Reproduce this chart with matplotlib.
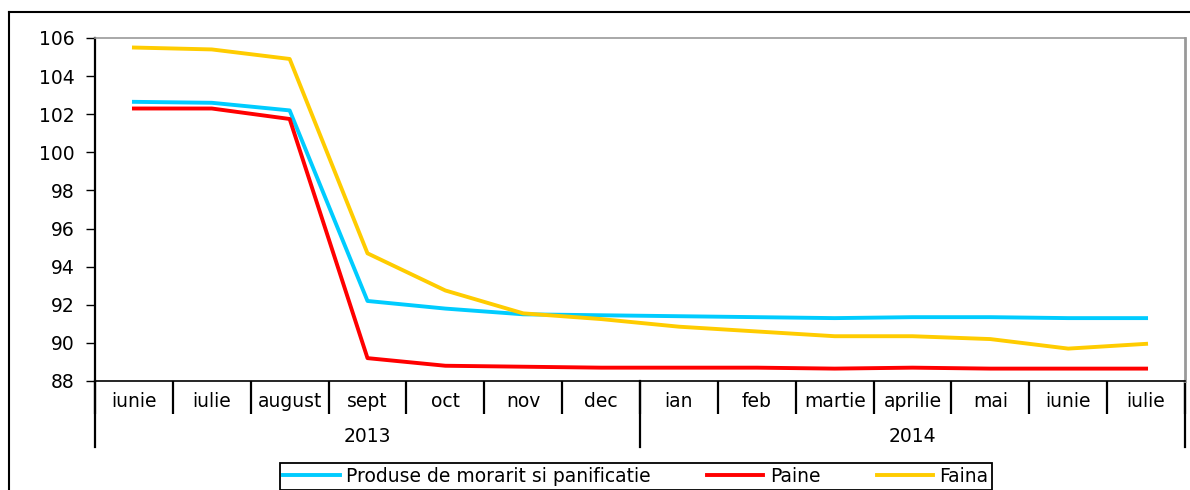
import numpy as np
import matplotlib.pyplot as plt
from matplotlib.lines import Line2D

plt.rcParams['font.family'] = ['DejaVu Sans']

# monthly indices, June 2013 - July 2014
months = ['iunie', 'iulie', 'august', 'sept', 'oct', 'nov', 'dec',
          'ian', 'feb', 'martie', 'aprilie', 'mai', 'iunie', 'iulie']
years = ['2013', '2014']
months_per_year = [7, 7]

produse = [102.65, 102.6, 102.2, 92.2, 91.8, 91.5, 91.45,
           91.4, 91.35, 91.3, 91.35, 91.35, 91.3, 91.3]
paine = [102.3, 102.3, 101.75, 89.2, 88.8, 88.75, 88.7,
         88.7, 88.7, 88.65, 88.7, 88.65, 88.65, 88.65]
faina = [105.5, 105.4, 104.9, 94.7, 92.75, 91.55, 91.25,
         90.85, 90.6, 90.35, 90.35, 90.2, 89.7, 89.95]

fs = 13.5

fig = plt.figure(figsize=(11.9, 4.9), dpi=100)
ax = fig.add_axes([95 / 1190, 1 - 381 / 490, 1090 / 1190, 343 / 490])

x = np.arange(len(months))
ax.plot(x, produse, color='#00ccff', lw=2.8, label='Produse de morarit si panificatie')
ax.plot(x, paine, color='#ff0000', lw=2.8, label='Paine')
ax.plot(x, faina, color='#ffcc00', lw=2.8, label='Faina')

ax.set_xlim(-0.5, len(months) - 0.5)
ax.set_ylim(88, 106)
ax.set_yticks(np.arange(88, 107, 2))
ax.tick_params(axis='y', labelsize=fs, length=6.5, width=1, direction='out', pad=8)

# category axis: boundaries as major ticks, names as minor ticks
ax.set_xticks(np.arange(-0.5, len(months)), [''] * (len(months) + 1))
ax.set_xticks(x, months, minor=True)
ax.tick_params(axis='x', which='major', length=24, width=1.6, direction='out')
ax.tick_params(axis='x', which='minor', length=0, labelsize=fs, pad=8)

for s in ['top', 'right']:
    ax.spines[s].set_color('#999999')
ax.spines['top'].set_linewidth(1.2)
ax.spines['right'].set_linewidth(2)
ax.spines['left'].set_linewidth(1.6)
ax.spines['bottom'].set_linewidth(1.2)

# year level
tr = ax.get_xaxis_transform()
start = 0
bounds = [-0.5]
for yr, n in zip(years, months_per_year):
    ax.text(start + (n - 1) / 2, -0.163, yr, transform=tr, ha='center', va='center', fontsize=fs)
    start += n
    bounds.append(start - 0.5)
for b in bounds:
    ax.plot([b, b], [0, -0.192], transform=tr, color='black', lw=1.6, clip_on=False)

ax.legend(loc='upper center', bbox_to_anchor=(636 / 1190, 1 - 463 / 490),
          bbox_transform=fig.transFigure, ncol=3, frameon=True, fancybox=False,
          edgecolor='black', fontsize=fs, handlelength=3, handletextpad=0.35,
          columnspacing=3.0, borderpad=0.2, borderaxespad=0, framealpha=1)
ax.get_legend().get_frame().set_linewidth(1.3)

# outer chart frame
fig.add_artist(Line2D([9 / 1190, 9 / 1190], [0, 1 - 12 / 490], color='black', lw=1.5))
fig.add_artist(Line2D([9 / 1190, 1], [1 - 12 / 490, 1 - 12 / 490], color='black', lw=1.5))

fig.savefig('out.png', dpi=100)
